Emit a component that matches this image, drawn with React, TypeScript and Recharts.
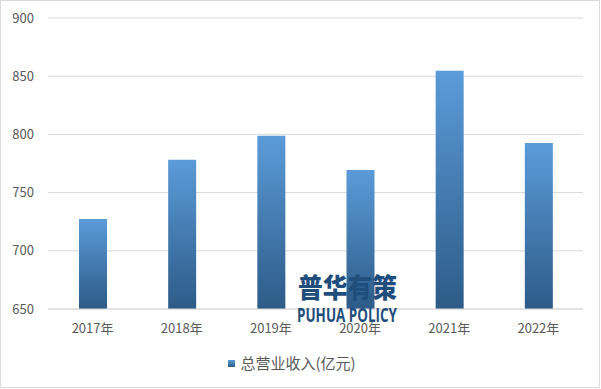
import { BarChart, Bar, XAxis, YAxis, CartesianGrid, Legend } from "recharts";

const years = ["2017年", "2018年", "2019年", "2020年", "2021年", "2022年"];
const revenue = [727.4, 778.2, 798.8, 769.5, 854.7, 792.6];
const yTicks = [650, 700, 750, 800, 850, 900];
const seriesName = "总营业收入(亿元)";

const data = years.map((y, i) => ({ year: y, revenue: revenue[i] }));

const FONT = '"Noto Sans CJK SC", "Noto Sans", sans-serif';

function LegendBox() {
  return (
    <div
      style={{
        marginTop: 8,
        display: "flex",
        justifyContent: "center",
        alignItems: "center",
        fontFamily: FONT,
        fontSize: 15,
        lineHeight: "16px",
        color: "#595959",
      }}
    >
      <span
        style={{
          display: "inline-block",
          width: 7,
          height: 7,
          marginRight: 5,
          background: "linear-gradient(#5b9bd5, #2e5c88)",
        }}
      />
      {seriesName}
    </div>
  );
}

export default function App() {
  return (
    <div
      style={{
        position: "absolute",
        left: 0,
        top: 0,
        width: 600,
        height: 388,
        boxSizing: "border-box",
        border: "1px solid #d9d9d9",
        background: "#fff",
      }}
    >
      <BarChart
        width={598}
        height={386}
        data={data}
        margin={{ top: 17, right: 16, left: 0, bottom: 0 }}
      >
        <defs>
          <linearGradient id="barFill" x1="0" y1="0" x2="0" y2="1">
            <stop offset="0%" stopColor="#5b9bd9" />
            <stop offset="100%" stopColor="#2d5b87" />
          </linearGradient>
        </defs>
        <CartesianGrid vertical={false} stroke="#d9d9d9" />
        <XAxis
          dataKey="year"
          height={38}
          tickLine={false}
          axisLine={{ stroke: "#d9d9d9" }}
          tickMargin={9}
          tick={{ fontSize: 13, fill: "#595959", fontFamily: FONT }}
        />
        <YAxis
          width={47}
          domain={[650, 900]}
          ticks={yTicks}
          allowDataOverflow
          tickLine={false}
          axisLine={false}
          tickMargin={8}
          tick={{ fontSize: 13, fill: "#595959", fontFamily: FONT }}
        />
        <Legend verticalAlign="bottom" height={40} content={() => <LegendBox />} />
        <Bar
          dataKey="revenue"
          name={seriesName}
          fill="url(#barFill)"
          barSize={28}
          isAnimationActive={false}
        />
      </BarChart>
      {/* watermark overlay, drawn on top of the bars */}
      <svg
        width={601}
        height={389}
        style={{ position: "absolute", left: -1, top: -1, pointerEvents: "none" }}
      >
        <text
          x={298}
          y={298}
          fontSize={27}
          fontWeight={900}
          fontFamily={FONT}
          fill="#1f4e7c"
          textLength={99}
          lengthAdjust="spacingAndGlyphs"
        >
          普华有策
        </text>
        <text
          x={297}
          y={322}
          fontSize={19}
          fontWeight={700}
          fontFamily='"Open Sans", sans-serif'
          fill="#1f4e7c"
          textLength={100}
          lengthAdjust="spacingAndGlyphs"
        >
          PUHUA POLICY
        </text>
      </svg>
    </div>
  );
}
